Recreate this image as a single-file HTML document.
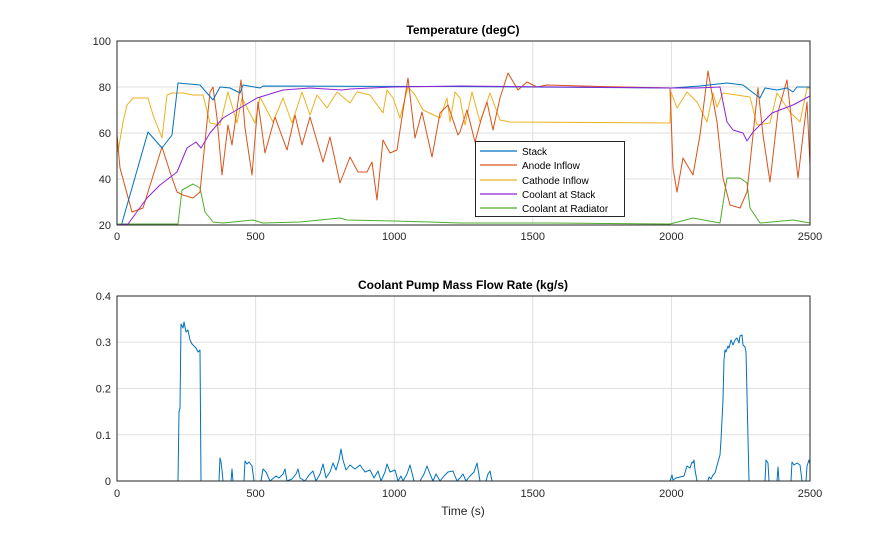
<!DOCTYPE html>
<html><head><meta charset="utf-8"><style>
body{margin:0;background:#fff;}
svg{display:block;font-family:"Liberation Sans",Arial,sans-serif;}
</style></head><body>
<svg width="895" height="540" viewBox="0 0 895 540" xmlns="http://www.w3.org/2000/svg">
<rect width="895" height="540" fill="#fff"/>
<g stroke="#dfdfdf" stroke-width="1">
<line x1="255.6" y1="41" x2="255.6" y2="225"/><line x1="394.2" y1="41" x2="394.2" y2="225"/>
<line x1="532.8" y1="41" x2="532.8" y2="225"/><line x1="671.4" y1="41" x2="671.4" y2="225"/>
<line x1="117" y1="87" x2="810" y2="87"/><line x1="117" y1="133" x2="810" y2="133"/><line x1="117" y1="179" x2="810" y2="179"/>
</g>
<g fill="none" stroke-width="1" stroke-linejoin="round">
<polyline stroke="#4daf2c" points="117,224 178,224 182,190 193,184 200,188 205,212 213,222 223,223 253,220 263,223 300,222 340,218 347,220 393,221 430,222 460,223 550,223 670,224 693,218 720,223 727,178 740,178 747,183 750,208 760,223 793,220 810,223"/>
<polyline stroke="#edb120" points="117,135 118,152 123,122 127,105 133,98 148,98 153,115 162,138 167,95 172,93 183,93 193,95 203,95 210,123 220,125 228,92 237,123 242,98 255,123 260,97 273,122 283,98 292,123 302,92 310,115 317,95 327,108 337,92 350,103 357,92 370,95 383,113 387,90 393,98 400,118 408,87 415,95 423,110 440,118 447,98 450,122 455,92 460,98 465,125 472,92 480,122 490,93 500,120 510,122 670,123 671,92 677,108 687,92 697,102 707,122 713,93 717,107 723,93 750,97 757,125 770,123 777,93 790,112 800,122 807,88 810,88"/>
<polyline stroke="#d95319" points="117,135 120,168 132,212 143,208 162,147 170,172 177,192 183,195 193,198 200,192 210,92 213,87 217,118 222,175 228,125 232,145 241,80 245,128 252,175 258,102 265,153 275,117 287,150 295,115 302,145 310,117 323,162 330,137 340,183 350,157 358,172 367,172 372,162 377,200 383,140 390,153 397,150 408,78 415,138 422,112 432,157 440,113 448,105 458,135 460,132 467,110 475,142 481,120 487,102 493,130 500,98 508,73 518,90 527,82 537,87 547,85 600,86.5 670,88 673,168 677,192 683,158 693,175 700,135 708,71 717,122 723,178 730,205 740,208 747,192 753,135 758,88 763,135 770,182 778,112 787,80 798,178 807,102 810,165"/>
<polyline stroke="#0072bd" points="121.7,224 148,132 162,148 172,135 178,83 200,85 213,100 220,87 230,88 240,93 243,85 260,88 263,86 450,86.5 600,87.5 671,88 672,88 700,86 727,83 743,85 760,98 765,88 777,90 787,88 793,92 797,87 810,87"/>
<polyline stroke="#8e24d6" points="117,225 128,224 147,198 160,185 177,172 187,148 196,142 201,148 210,133 223,118 240,108 257,98 283,90 310,88 342,90 350,89 393,87 460,86 670,88 697,88 720,87 727,122 733,130 743,133 747,141 753,132 772,113 793,105 810,96"/>
</g>
<rect x="117" y="41" width="693" height="184" fill="none" stroke="#262626" stroke-width="1"/>
<g font-size="11" fill="#262626" text-anchor="end">
<text x="111" y="45">100</text><text x="111" y="91">80</text><text x="111" y="137">60</text><text x="111" y="183">40</text><text x="111" y="229">20</text>
</g>
<g font-size="11" fill="#262626" text-anchor="middle">
<text x="117" y="240">0</text><text x="255.6" y="240">500</text><text x="394.2" y="240">1000</text><text x="532.8" y="240">1500</text><text x="671.4" y="240">2000</text><text x="810" y="240">2500</text>
</g>
<text x="463" y="34" font-size="12" font-weight="bold" text-anchor="middle" fill="#000">Temperature (degC)</text>
<rect x="475.5" y="141.5" width="149" height="75" fill="#fff" stroke="#262626" stroke-width="1"/>
<g stroke-width="1.2">
<line x1="480" y1="151" x2="517" y2="151" stroke="#0072bd"/>
<line x1="480" y1="165" x2="517" y2="165" stroke="#d95319"/>
<line x1="480" y1="180" x2="517" y2="180" stroke="#edb120"/>
<line x1="480" y1="194" x2="517" y2="194" stroke="#8e24d6"/>
<line x1="480" y1="208" x2="517" y2="208" stroke="#4daf2c"/>
</g>
<g font-size="10" fill="#000">
<text x="522" y="155">Stack</text><text x="522" y="169">Anode Inflow</text><text x="522" y="184">Cathode Inflow</text><text x="522" y="198">Coolant at Stack</text><text x="522" y="212">Coolant at Radiator</text>
</g>
<g stroke="#dfdfdf" stroke-width="1">
<line x1="255.6" y1="296" x2="255.6" y2="481"/><line x1="394.2" y1="296" x2="394.2" y2="481"/>
<line x1="532.8" y1="296" x2="532.8" y2="481"/><line x1="671.4" y1="296" x2="671.4" y2="481"/>
<line x1="117" y1="342.25" x2="810" y2="342.25"/><line x1="117" y1="388.5" x2="810" y2="388.5"/><line x1="117" y1="434.75" x2="810" y2="434.75"/>
</g>
<polyline fill="none" stroke="#0072bd" stroke-width="1" stroke-linejoin="round" points="117,481 178,481 179,412 180,408 181,324 183,328 184,322 186,332 188,330 190,340 192,344 194,346 196,348 198,352 200,350 201,481 219,481 220,458 221,462 222,470 223,481 231,481 232,469 233,481 244,481 245,461 247,464 249,462 252,466 254,481 261,481 263,469 266,472 270,481 276,476 279,478 283,474 285,469 287,481 292,479 296,474 298,469 300,478 305,481 309,475 313,471 316,481 320,474 323,464 326,478 330,472 333,463 336,470 339,460 341,449 343,460 346,470 350,465 355,469 360,465 365,472 370,470 374,478 378,471 381,481 385,472 387,464 390,472 395,470 398,481 401,476 403,481 407,474 410,465 414,481 420,481 424,474 427,466 430,474 433,481 436,474 440,481 444,476 448,472 453,471 457,481 460,478 463,474 466,481 470,476 474,472 477,463 480,481 486,481 488,474 490,471 492,481 670,481 672,475 673,480 676,478 680,477 684,476 687,466 690,468 692,462 693,463 694,460 695,470 697,481 708,481 709,477 711,479 713,475 715,473 718,462 720,455 721,440 723,400 724,360 725,350 726,352 728,346 729,348 731,340 733,345 735,340 737,338 739,343 740,336 742,335 743,345 745,347 746,352 749,481 765,481 766,460 768,463 769,481 777,481 778,467 779,481 791,481 792,462 794,465 797,463 800,465 802,481 806,481 807,466 809,460 810,464"/>
<rect x="117" y="296" width="693" height="185" fill="none" stroke="#262626" stroke-width="1"/>
<g font-size="11" fill="#262626" text-anchor="end">
<text x="111" y="300">0.4</text><text x="111" y="346">0.3</text><text x="111" y="392.5">0.2</text><text x="111" y="439">0.1</text><text x="111" y="485">0</text>
</g>
<g font-size="11" fill="#262626" text-anchor="middle">
<text x="117" y="497">0</text><text x="255.6" y="497">500</text><text x="394.2" y="497">1000</text><text x="532.8" y="497">1500</text><text x="671.4" y="497">2000</text><text x="810" y="497">2500</text>
</g>
<text x="463" y="289" font-size="12" font-weight="bold" text-anchor="middle" fill="#000">Coolant Pump Mass Flow Rate (kg/s)</text>
<text x="463" y="515" font-size="12" text-anchor="middle" fill="#262626">Time (s)</text>
</svg>
</body></html>
